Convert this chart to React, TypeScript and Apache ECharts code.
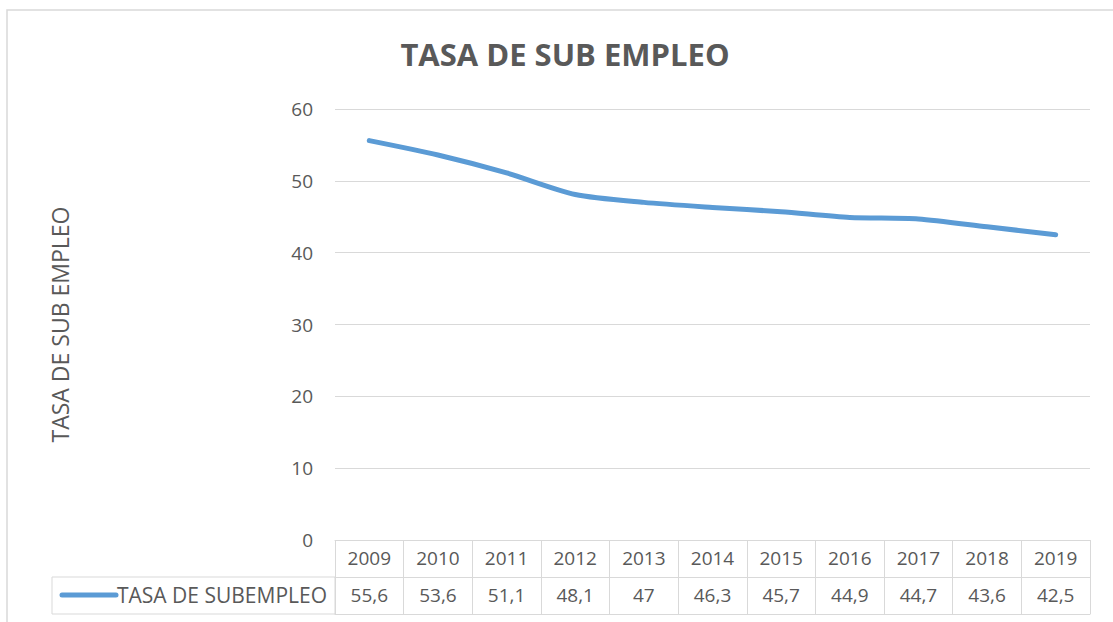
import React, { useEffect, useRef } from "react";
import * as echarts from "echarts";

const years = ["2009", "2010", "2011", "2012", "2013", "2014", "2015", "2016", "2017", "2018", "2019"];
const subempleo = [55.6, 53.6, 51.1, 48.1, 47, 46.3, 45.7, 44.9, 44.7, 43.6, 42.5];
const seriesName = "TASA DE SUBEMPLEO";
const chartTitle = "TASA DE SUB EMPLEO";
const yAxisName = "TASA DE SUB EMPLEO";

const FONT = "'Open Sans', 'Noto Sans', sans-serif";
const TXT = "#595959";
const GRID = "#d9d9d9";
const BLUE = "#5B9BD5";

export default function App() {
  const ref = useRef<HTMLDivElement>(null);
  useEffect(() => {
    document.body.style.margin = "0";
    const chart = echarts.init(ref.current!, null, { renderer: "svg" });
    const fmt = (v: number) => String(v).replace(".", ",");
    chart.setOption({
      animation: false,
      backgroundColor: "#ffffff",
      textStyle: { fontFamily: FONT },
      title: {
        text: chartTitle,
        left: 560,
        textAlign: "center",
        top: 33,
        textStyle: { fontFamily: FONT, fontSize: 31, fontWeight: "bold", color: TXT },
      },
      grid: { left: 335, right: 23, top: 109, bottom: 82 },
      xAxis: [
        {
          type: "category",
          data: years,
          boundaryGap: true,
          axisLine: { show: true, lineStyle: { color: GRID, width: 1 } },
          axisTick: { show: true, interval: 0, length: 74, lineStyle: { color: GRID, width: 1 } },
          axisLabel: { interval: 0, fontSize: 19, color: TXT, margin: 8, fontFamily: FONT },
        },
        {
          type: "category",
          data: subempleo.map(fmt),
          position: "bottom",
          offset: 37,
          boundaryGap: true,
          axisLine: { show: true, lineStyle: { color: GRID, width: 1 } },
          axisTick: { show: false },
          axisLabel: { interval: 0, fontSize: 19, color: TXT, margin: 8, fontFamily: FONT },
        },
        {
          type: "category",
          data: years,
          position: "bottom",
          offset: 74,
          axisLine: { show: true, lineStyle: { color: GRID, width: 1 } },
          axisTick: { show: false },
          axisLabel: { show: false },
        },
      ],
      yAxis: {
        type: "value",
        min: 0,
        max: 60,
        interval: 10,
        name: yAxisName,
        nameLocation: "middle",
        nameRotate: 90,
        nameGap: 264,
        nameTextStyle: { fontSize: 23, color: TXT, fontFamily: FONT },
        axisLine: { show: false },
        axisTick: { show: false },
        axisLabel: { fontSize: 19, color: TXT, margin: 22, fontFamily: FONT },
        splitLine: { lineStyle: { color: GRID, width: 1 } },
      },
      series: [
        {
          name: seriesName,
          type: "line",
          xAxisIndex: 0,
          data: subempleo,
          smooth: 0.25,
          symbol: "none",
          lineStyle: { color: BLUE, width: 5, cap: "round", join: "round" },
        },
      ],
      graphic: [
        {
          type: "rect",
          shape: { x: 7, y: 10, width: 1300, height: 800 },
          style: { fill: "none", stroke: GRID, lineWidth: 1.5 },
          silent: true,
        },
        {
          type: "rect",
          shape: { x: 52, y: 577, width: 283, height: 37 },
          style: { fill: "none", stroke: GRID, lineWidth: 1 },
          silent: true,
        },
        {
          type: "line",
          shape: { x1: 62, y1: 595, x2: 116, y2: 595 },
          style: { stroke: BLUE, lineWidth: 5, lineCap: "round" },
          silent: true,
        },
        {
          type: "text",
          x: 117,
          y: 595,
          style: {
            text: seriesName,
            fontSize: 21,
            fontFamily: FONT,
            fill: TXT,
            verticalAlign: "middle",
            align: "left",
          },
          silent: true,
        },
      ],
    });
    return () => chart.dispose();
  }, []);
  return <div ref={ref} style={{ width: 1113, height: 622 }} />;
}
